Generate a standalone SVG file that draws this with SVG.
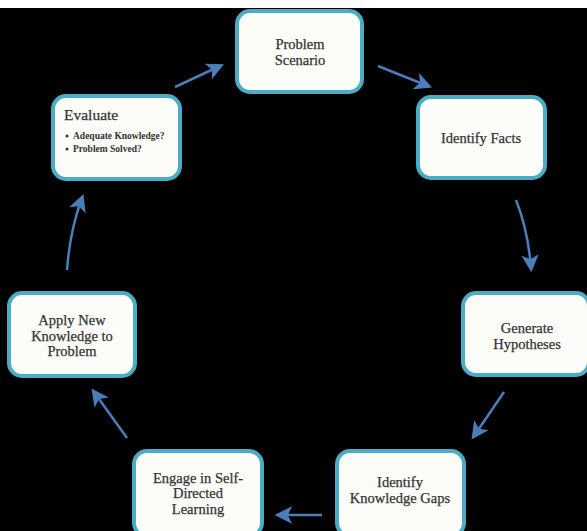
<svg xmlns="http://www.w3.org/2000/svg" width="587" height="531" viewBox="0 0 587 531">
<defs>
<style>
.box{fill:#FCFDF8;stroke:#4BACC6;stroke-width:4}
.t{font-family:"Liberation Serif",serif;font-size:14.5px;fill:#333;text-anchor:middle;stroke:#333;stroke-width:0.25}
.s{font-family:"Liberation Serif",serif;font-size:9.5px;fill:#333;font-weight:bold}
.c{fill:none;stroke:#4A7EBB;stroke-width:2.5}
</style>
<marker id="ah" viewBox="0 0 12 12" refX="9" refY="6" markerWidth="7" markerHeight="7" orient="auto" markerUnits="strokeWidth">
<path d="M0,0 L12,6 L0,12 L3,6 Z" fill="#4A7EBB"/>
</marker>
</defs>
<rect x="0" y="0" width="587" height="531" fill="#000"/>
<rect x="0" y="0" width="587" height="8" fill="#fff"/>
<g id="connectors">
<path class="c" d="M175,87 L220,66" marker-end="url(#ah)"/>
<path class="c" d="M378,66 L428,86" marker-end="url(#ah)"/>
<path class="c" d="M516,200 Q528,230 531,268" marker-end="url(#ah)"/>
<path class="c" d="M504,392 L474,436" marker-end="url(#ah)"/>
<path class="c" d="M322,515 L279,515" marker-end="url(#ah)"/>
<path class="c" d="M127,438 L94,392" marker-end="url(#ah)"/>
<path class="c" d="M67,270 Q70,230 82,198" marker-end="url(#ah)"/>
</g>
<g id="problem-scenario">
<rect class="box" x="237" y="11" width="125" height="81" rx="13"/>
<text class="t" x="300" y="49">Problem</text>
<text class="t" x="300" y="65">Scenario</text>
</g>
<g id="identify-facts">
<rect class="box" x="418" y="97" width="127" height="81" rx="13"/>
<text class="t" x="481" y="143">Identify Facts</text>
</g>
<g id="generate-hypotheses">
<rect class="box" x="463" y="293" width="126" height="82" rx="13"/>
<text class="t" x="527" y="333">Generate</text>
<text class="t" x="527" y="349">Hypotheses</text>
</g>
<g id="identify-knowledge-gaps">
<rect class="box" x="337" y="451" width="127" height="85" rx="13"/>
<text class="t" x="400" y="487">Identify</text>
<text class="t" x="400" y="503">Knowledge Gaps</text>
</g>
<g id="engage-learning">
<rect class="box" x="134" y="451" width="128" height="85" rx="13"/>
<text class="t" x="198" y="483">Engage in Self-</text>
<text class="t" x="198" y="498">Directed</text>
<text class="t" x="198" y="514">Learning</text>
</g>
<g id="apply-knowledge">
<rect class="box" x="9" y="293" width="126" height="83" rx="13"/>
<text class="t" x="72" y="325">Apply New</text>
<text class="t" x="72" y="341">Knowledge to</text>
<text class="t" x="72" y="356">Problem</text>
</g>
<g id="evaluate">
<rect class="box" x="53" y="96" width="127" height="83" rx="13"/>
<text class="t" x="64" y="120" style="text-anchor:start;font-size:15.5px">Evaluate</text>
<circle cx="67" cy="136" r="1.5" fill="#333"/>
<circle cx="67" cy="149" r="1.5" fill="#333"/>
<text class="s" x="73" y="139">Adequate Knowledge?</text>
<text class="s" x="73" y="152">Problem Solved?</text>
</g>
</svg>
